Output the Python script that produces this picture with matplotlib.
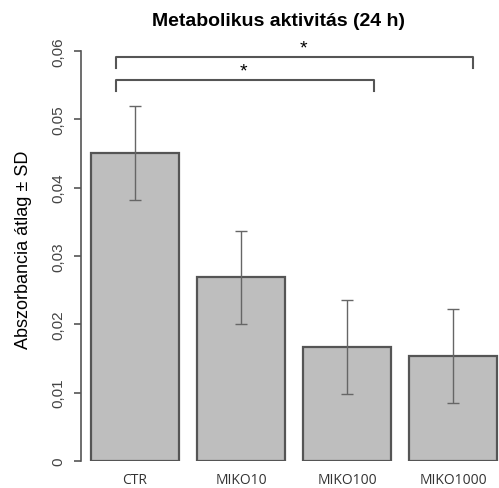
import numpy as np
import matplotlib
matplotlib.use("Agg")
import matplotlib.pyplot as plt

plt.rcParams["font.family"] = ["Liberation Sans", "DejaVu Sans"]

# adatok
groups = ["CTR", "MIKO10", "MIKO100", "MIKO1000"]
means = [0.0451, 0.0269, 0.0167, 0.0154]
sds = [0.0069, 0.0068, 0.0069, 0.0069]
yticks = [0, 0.01, 0.02, 0.03, 0.04, 0.05, 0.06]
ytick_labels = ["0", "0,01", "0,02", "0,03", "0,04", "0,05", "0,06"]

fig = plt.figure(figsize=(4.99, 4.89), dpi=100)
ax = fig.add_axes([81 / 499, 27 / 489, 418 / 499, 410 / 489])

x = np.arange(len(groups))
ax.bar(x, means, width=0.833, color="#bebebe", edgecolor="#555555", linewidth=1.6)
ax.errorbar(x, means, yerr=sds, fmt="none", ecolor="#666666", elinewidth=1.0,
            capsize=4, capthick=1.0)

ax.set_xlim(-0.51, 3.434)
ax.set_ylim(0, 0.06)

for s in ["top", "right", "bottom"]:
    ax.spines[s].set_visible(False)
ax.spines["left"].set_color("#555555")
ax.spines["left"].set_linewidth(1.2)

ax.set_yticks(yticks)
ax.set_yticklabels(ytick_labels, rotation=90, va="center", fontsize=11, color="#444444")
ax.tick_params(axis="y", length=5, width=1.2, color="#555555", pad=6)
ax.set_xticks(x)
ax.set_xticklabels(groups, fontsize=10, color="#333333", family=["Open Sans", "DejaVu Sans"])
ax.tick_params(axis="x", length=0, pad=8)

ax.set_ylabel("Abszorbancia átlag ± SD", fontsize=13)
ax.yaxis.set_label_coords(-0.118, 0.517)

# szignifikancia jelölések
brk = "#555555"
ax.plot([-0.18, -0.18, 3.19, 3.19], [0.0575, 0.0591, 0.0591, 0.0575],
        color=brk, lw=1.5, clip_on=False)
ax.plot([-0.18, -0.18, 2.25, 2.25], [0.0542, 0.0558, 0.0558, 0.0542],
        color=brk, lw=1.5, clip_on=False)
ax.text(1.585, 0.0592, "*", ha="center", va="bottom", fontsize=14, clip_on=False)
ax.text(1.02, 0.0559, "*", ha="center", va="bottom", fontsize=14, clip_on=False)

fig.text(278 / 499, 1 - 22 / 489, "Metabolikus aktivitás (24 h)", ha="center",
         va="center", fontsize=14, fontweight="bold")

fig.savefig("out.png", dpi=100)
